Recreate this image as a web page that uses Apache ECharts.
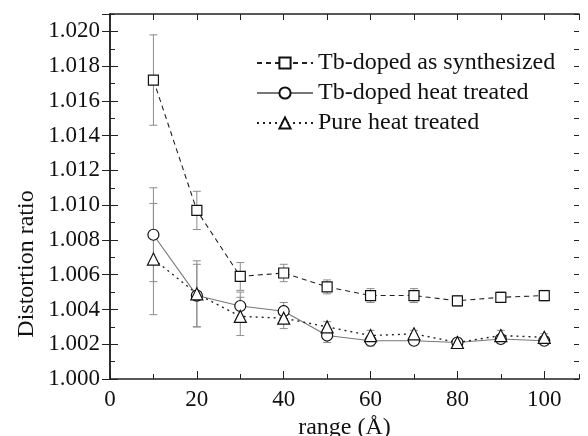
<!DOCTYPE html>
<html>
<head>
<meta charset="utf-8">
<script src="https://cdn.jsdelivr.net/npm/echarts@6/dist/echarts.min.js"></script>
<style>
  html, body { margin: 0; padding: 0; background: #fff; }
  #chart { width: 588px; height: 436px; }
</style>
</head>
<body>
<div id="chart"></div>
<script>
const range = [10, 20, 30, 40, 50, 60, 70, 80, 90, 100];

const synthesized = [1.0172, 1.0097, 1.0059, 1.0061, 1.0053, 1.0048, 1.0048, 1.0045, 1.0047, 1.0048];
const synthesizedErr = [0.0026, 0.0011, 0.0008, 0.0005, 0.0004, 0.0004, 0.0004, 0.0003, 0.0003, 0.0003];

const tbHeat = [1.0083, 1.0048, 1.0042, 1.0039, 1.0025, 1.0022, 1.0022, 1.0021, 1.0023, 1.0022];
const tbHeatErr = [0.0027, 0.0018, 0.0008, 0.0005, 0.0004, 0.0003, 0.0002, 0.0002, 0.0002, 0.0002];

const pureHeat = [1.0069, 1.0049, 1.0036, 1.0035, 1.0030, 1.0025, 1.0026, 1.0021, 1.0025, 1.0024];
const pureHeatErr = [0.0032, 0.0019, 0.0011, 0.0006, 0.0003, 0.0003, 0.0002, 0.0002, 0.0003, 0.0002];

const names = ["Tb-doped as synthesized", "Tb-doped heat treated", "Pure heat treated"];

const font = '"Liberation Serif", "Times New Roman", serif';

const chart = echarts.init(document.getElementById("chart"));

const pairs = (ys) => range.map((x, i) => [x, ys[i]]);
const bars = (ys, es) => range.map((x, i) => [x, ys[i] - es[i], ys[i] + es[i]]);

const errorSeries = (ys, es) => ({
  type: "custom",
  z: 1,
  silent: true,
  data: bars(ys, es),
  encode: { x: 0, y: [1, 2] },
  renderItem: (params, api) => {
    const lo = api.coord([api.value(0), api.value(1)]);
    const hi = api.coord([api.value(0), api.value(2)]);
    const w = 4;
    const style = { stroke: "#8c8c8c", lineWidth: 1 };
    return {
      type: "group",
      children: [
        { type: "line", shape: { x1: lo[0], y1: lo[1], x2: hi[0], y2: hi[1] }, style },
        { type: "line", shape: { x1: lo[0] - w, y1: lo[1], x2: lo[0] + w, y2: lo[1] }, style },
        { type: "line", shape: { x1: hi[0] - w, y1: hi[1], x2: hi[0] + w, y2: hi[1] }, style }
      ]
    };
  }
});

const lineSeries = (name, ys, symbol, size, lineStyle) => ({
  name,
  type: "line",
  z: 3,
  data: pairs(ys),
  symbol,
  symbolSize: size,
  showAllSymbol: true,
  lineStyle,
  itemStyle: { color: "#fff", borderColor: "#111", borderWidth: 1.2 }
});

const axisLine = { show: true, lineStyle: { color: "#222", width: 1.5 } };

const xBase = { type: "value", min: 0, max: 108, axisLine, splitLine: { show: false } };
const yBase = { type: "value", min: 1.0, max: 1.021, axisLine, splitLine: { show: false } };

const option = {
  animation: false,
  backgroundColor: "#fff",
  grid: { left: 110, right: 9, top: 14, bottom: 57, outerBoundsMode: "none" },
  legend: {
    orient: "vertical",
    left: 256,
    top: 51,
    padding: 0,
    itemWidth: 56,
    itemHeight: 14,
    itemGap: 6,
    data: names,
    textStyle: { fontFamily: font, fontSize: 24, color: "#111" }
  },
  xAxis: [
    {
      ...xBase,
      position: "bottom",
      interval: 20,
      axisLine: { ...axisLine, onZero: false },
      axisTick: { inside: true, length: 8, lineStyle: { color: "#222" } },
      axisLabel: { fontFamily: font, fontSize: 23, color: "#111", margin: 9, showMaxLabel: false },
      name: "range (Å)",
      nameLocation: "middle",
      nameGap: 32,
      nameTextStyle: { fontFamily: font, fontSize: 24, color: "#111" }
    },
    { ...xBase, position: "bottom", interval: 10, axisLine: { show: false, onZero: false },
      axisTick: { inside: true, length: 5, lineStyle: { color: "#222" } }, axisLabel: { show: false } },
    { ...xBase, position: "top", interval: 10, axisLine: { ...axisLine, onZero: false },
      axisTick: { inside: true, length: 6, lineStyle: { color: "#222" } }, axisLabel: { show: false } }
  ],
  yAxis: [
    {
      ...yBase,
      position: "left",
      interval: 0.002,
      axisTick: { inside: true, length: 8, lineStyle: { color: "#222" } },
      axisLabel: {
        fontFamily: font, fontSize: 23, color: "#111", margin: 10, showMaxLabel: false,
        formatter: (v) => v.toFixed(3)
      }
    },
    { ...yBase, position: "left", interval: 0.001, axisLine: { show: false },
      axisTick: { inside: true, length: 5, lineStyle: { color: "#222" } }, axisLabel: { show: false } },
    { ...yBase, position: "right", interval: 0.002, axisLine: axisLine,
      axisTick: { inside: true, length: 8, lineStyle: { color: "#222" } }, axisLabel: { show: false } },
    { ...yBase, position: "right", interval: 0.001, axisLine: { show: false },
      axisTick: { inside: true, length: 5, lineStyle: { color: "#222" } }, axisLabel: { show: false } }
  ],
  graphic: [
    {
      type: "text",
      x: 27,
      y: 264,
      rotation: Math.PI / 2,
      style: {
        text: "Distortion ratio",
        font: '24px "Liberation Serif", "Times New Roman", serif',
        fill: "#111",
        align: "center",
        verticalAlign: "middle"
      }
    }
  ],
  series: [
    errorSeries(synthesized, synthesizedErr),
    errorSeries(tbHeat, tbHeatErr),
    errorSeries(pureHeat, pureHeatErr),
    lineSeries(names[0], synthesized, "rect", 10,
      { color: "#222", width: 1.1, type: [5, 4] }),
    lineSeries(names[1], tbHeat, "circle", 11,
      { color: "#777", width: 1.1, type: "solid" }),
    lineSeries(names[2], pureHeat, "triangle", 12,
      { color: "#222", width: 1.4, type: [2, 4] })
  ]
};

chart.setOption(option);
window.addEventListener("resize", () => chart.resize());
</script>
</body>
</html>
